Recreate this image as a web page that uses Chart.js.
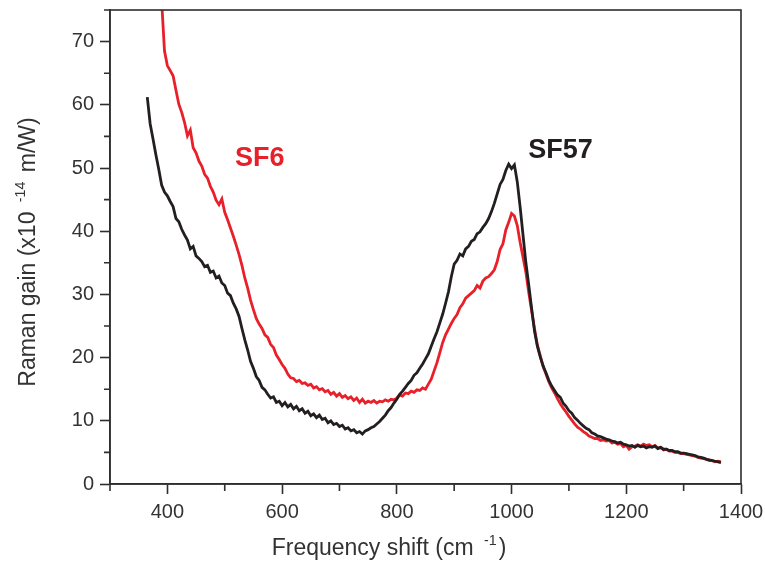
<!DOCTYPE html>
<html>
<head>
<meta charset="utf-8">
<script src="https://cdn.jsdelivr.net/npm/chart.js@4.4.1/dist/chart.umd.min.js"></script>
<style>
  body { margin: 0; background: #fff; }
  canvas { display: block; }
</style>
</head>
<body>
<canvas id="ramanChart" width="765" height="567"></canvas>
<script>
// frequency shift in cm^-1, one sample every 5 cm^-1 from 365 to 1365
const shift = Array.from({ length: 201 }, (_, i) => 365 + 5 * i);

const sf57 = [
  61.2, 57.0, 54.6, 52.1, 49.8, 47.3, 46.2, 45.6, 44.7, 43.9,
  42.0, 41.5, 40.3, 39.4, 38.6, 37.2, 37.6, 36.1, 35.7, 35.2,
  34.4, 34.6, 33.5, 33.7, 32.6, 32.9, 31.8, 31.4, 30.2, 29.8,
  28.6, 27.7, 26.5, 24.6, 22.8, 21.2, 19.4, 18.3, 17.0, 16.4,
  15.3, 14.9, 14.2, 13.6, 13.8, 12.9, 13.1, 12.4, 12.9, 12.2,
  12.6, 11.9, 12.3, 11.6, 11.9, 11.2, 11.5, 10.8, 11.1, 10.5,
  10.9, 10.2, 10.4, 9.7, 10.0, 9.4, 9.6, 9.1, 9.3, 8.7,
  8.9, 8.4, 8.6, 8.1, 8.3, 7.9, 8.4, 8.6, 8.9, 9.1,
  9.5, 9.9, 10.4, 10.9, 11.6, 12.1, 12.8, 13.4, 14.2, 14.7,
  15.3, 15.9, 16.4, 17.2, 17.6, 18.3, 19.0, 19.8, 20.6, 21.8,
  23.0, 24.1, 25.5, 26.9, 28.6, 30.4, 32.8, 34.8, 35.4, 36.4,
  36.1, 37.2, 37.6, 38.4, 38.7, 39.6, 39.9, 40.6, 41.2, 42.0,
  43.1, 44.4, 45.9, 47.4, 48.2, 49.6, 50.6, 49.9, 50.5, 47.8,
  43.8, 39.4, 35.0, 31.5, 27.8, 24.2, 21.8, 20.1, 18.7, 17.6,
  16.4, 15.5, 14.8, 14.1, 13.7, 12.8, 12.3, 11.6, 11.2, 10.5,
  10.1, 9.6, 9.2, 8.8, 8.6, 8.1, 7.9, 7.6, 7.5, 7.3,
  7.1, 7.0, 6.8, 6.7, 6.5, 6.6, 6.3, 6.2, 6.0, 6.1,
  5.8, 6.1, 5.9, 6.0, 5.7, 5.9, 5.8, 6.0, 5.6, 5.8,
  5.5, 5.5, 5.3, 5.3, 5.1, 5.1, 4.9, 4.9, 4.8, 4.7,
  4.6, 4.5, 4.3, 4.2, 4.1, 3.9, 3.8, 3.7, 3.6, 3.5,
  3.4
];

const sf6 = [
  null, null, null, null, 82.0, 76.5, 68.5, 66.2, 65.4, 64.6,
  62.3, 60.1, 58.8, 57.2, 55.1, 56.0, 53.2, 52.4, 51.1, 50.3,
  49.0, 48.4, 47.1, 46.2, 44.9, 44.2, 45.1, 43.0, 41.8, 40.5,
  39.2, 37.8, 36.3, 34.6, 32.6, 31.0, 29.1, 27.6, 26.2, 25.3,
  24.6, 23.6, 23.2, 22.1, 21.6, 20.4, 19.7, 18.9, 18.3, 17.4,
  16.8, 16.7, 16.2, 16.4, 15.9, 16.0, 15.6, 15.8, 15.2, 15.4,
  14.9, 15.1, 14.6, 14.8, 14.2, 14.5, 13.9, 14.3, 13.7, 14.0,
  13.5, 13.8, 13.2, 13.6, 12.9, 13.4, 12.8, 13.1, 12.9, 13.2,
  12.8, 13.1, 13.0, 13.3, 13.1, 13.4, 13.3, 13.6, 14.1, 13.9,
  14.4, 14.3, 14.7, 14.5, 14.9, 14.8, 15.2, 15.0, 15.8, 16.6,
  17.9, 19.2, 20.8, 22.4, 23.6, 24.5, 25.4, 26.2, 26.8, 27.9,
  28.5, 29.4, 29.8, 30.2, 30.6, 31.4, 31.0, 32.1, 32.6, 32.8,
  33.3, 33.9, 35.2, 37.1, 38.0, 40.2, 41.4, 42.8, 42.4, 40.9,
  38.2, 35.9, 33.5, 30.3, 27.4, 24.6, 22.0, 20.3, 18.6, 17.4,
  16.2, 15.2, 14.4, 13.5, 12.7, 12.0, 11.4, 10.7, 10.1, 9.5,
  9.0, 8.7, 8.3, 8.0, 7.6, 7.4, 7.2, 7.2, 6.9, 7.0,
  6.8, 6.9, 6.5, 6.6, 6.3, 6.4, 5.9, 6.1, 5.5, 5.9,
  6.0, 6.2, 6.0, 6.3, 6.1, 6.2, 5.9, 6.1, 5.7, 5.8,
  5.4, 5.5, 5.2, 5.2, 5.0, 5.0, 4.8, 4.8, 4.7, 4.6,
  4.5, 4.4, 4.2, 4.1, 4.0, 3.9, 3.7, 3.7, 3.5, 3.6,
  3.5
];

const xTicks = [400, 600, 800, 1000, 1200, 1400];
const xMinor = [300, 500, 700, 900, 1100, 1300];
const yTicks = [0, 10, 20, 30, 40, 50, 60, 70];
const yMinor = [5, 15, 25, 35, 45, 55, 65, 75];

const RED = '#e8202a';
const BLACK = '#231f20';
const AXIS = '#2e2e2e';
const TEXT = '#333333';
const FONT = '"Liberation Sans", Arial, sans-serif';

// draws text pieces left to right, superscripts raised and smaller, gap = extra px
function drawPieces(ctx, pieces, x, y, size) {
    let cx = x;
    pieces.forEach(p => {
        if (p.gap) { cx += p.gap; return; }
        const fs = p.sup ? size * 0.62 : size;
        ctx.font = fs + 'px ' + FONT;
        ctx.fillText(p.t, cx, p.sup ? y - size * 0.42 : y);
        cx += ctx.measureText(p.t).width;
    });
}
function piecesWidth(ctx, pieces, size) {
    return pieces.reduce((w, p) => {
        if (p.gap) return w + p.gap;
        ctx.font = (p.sup ? size * 0.62 : size) + 'px ' + FONT;
        return w + ctx.measureText(p.t).width;
    }, 0);
}

const decorPlugin = {
    id: 'decor',
    afterDraw(chart) {
        const { ctx, chartArea: a, scales: { x, y } } = chart;
        ctx.save();
        ctx.strokeStyle = AXIS;
        ctx.lineWidth = 1.6;
        ctx.strokeRect(a.left, a.top, a.right - a.left, a.bottom - a.top);

        // minor ticks
        ctx.beginPath();
        xMinor.forEach(v => {
            const px = x.getPixelForValue(v);
            ctx.moveTo(px, a.bottom);
            ctx.lineTo(px, a.bottom + 7);
        });
        yMinor.forEach(v => {
            const py = y.getPixelForValue(v);
            ctx.moveTo(a.left - 6, py);
            ctx.lineTo(a.left, py);
        });
        ctx.stroke();

        // axis titles
        ctx.fillStyle = TEXT;
        ctx.textBaseline = 'alphabetic';
        ctx.textAlign = 'left';
        const xTitle = [{ t: 'Frequency shift (cm ' }, { gap: 4 }, { t: '-1', sup: true }, { gap: 2 }, { t: ')' }];
        const xw = piecesWidth(ctx, xTitle, 23);
        drawPieces(ctx, xTitle, 389 - xw / 2, 555, 23);

        const yTitle = [{ t: 'Raman gain (x10 ' }, { gap: 3 }, { t: '-14', sup: true }, { gap: 3 }, { t: ' m/W)' }];
        const yw = piecesWidth(ctx, yTitle, 23);
        ctx.save();
        ctx.translate(35, 252);
        ctx.rotate(-Math.PI / 2);
        drawPieces(ctx, yTitle, -yw / 2, 0, 23);
        ctx.restore();

        // series labels
        ctx.font = 'bold 27px ' + FONT;
        ctx.fillStyle = RED;
        ctx.fillText('SF6', x.getPixelForValue(518), y.getPixelForValue(50.3));
        ctx.fillStyle = BLACK;
        ctx.fillText('SF57', x.getPixelForValue(1029), y.getPixelForValue(51.6));
        ctx.restore();
    }
};

const ctx = document.getElementById('ramanChart').getContext('2d');
const ramanChart = new Chart(ctx, {
    type: 'line',
    data: {
        datasets: [
            {
                label: 'SF57',
                data: shift.map((v, i) => ({ x: v, y: sf57[i] })),
                borderColor: BLACK,
                borderWidth: 2.8,
                pointRadius: 0,
                tension: 0
            },
            {
                label: 'SF6',
                data: shift.map((v, i) => ({ x: v, y: sf6[i] })),
                borderColor: RED,
                borderWidth: 2.8,
                pointRadius: 0,
                tension: 0
            }
        ]
    },
    options: {
        responsive: false,
        animation: false,
        layout: { padding: { left: 0, top: 10, right: 24, bottom: 0 } },
        plugins: { legend: { display: false }, tooltip: { enabled: false } },
        scales: {
            x: {
                type: 'linear',
                min: 300,
                max: 1400,
                afterBuildTicks: s => { s.ticks = xTicks.map(v => ({ value: v })); },
                afterFit: s => { s.height = 83; s.paddingLeft = 0; s.paddingRight = 0; },
                ticks: {
                    color: TEXT, font: { family: FONT, size: 20 }, padding: 6,
                    maxRotation: 0, autoSkip: false, callback: v => String(v)
                },
                grid: { drawOnChartArea: false, drawTicks: true, tickLength: 10, tickColor: AXIS, tickWidth: 1.6 },
                border: { display: true, color: AXIS, width: 1.6 }
            },
            y: {
                min: 0,
                max: 75,
                afterBuildTicks: s => { s.ticks = yTicks.map(v => ({ value: v })); },
                afterFit: s => { s.width = 110; s.paddingTop = 0; s.paddingBottom = 0; },
                ticks: { color: TEXT, font: { family: FONT, size: 20 }, padding: 6, callback: v => String(v) },
                grid: { drawOnChartArea: false, drawTicks: true, tickLength: 10, tickColor: AXIS, tickWidth: 1.6 },
                border: { display: true, color: AXIS, width: 1.6 }
            }
        }
    },
    plugins: [decorPlugin]
});
</script>
</body>
</html>
